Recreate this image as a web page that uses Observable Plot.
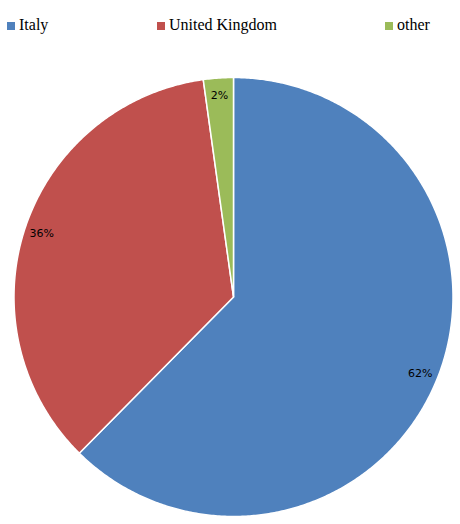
<!DOCTYPE html>
<html>
<head>
<meta charset="utf-8">
<script src="https://cdn.jsdelivr.net/npm/d3@7"></script>
<script src="https://cdn.jsdelivr.net/npm/@observablehq/plot@0.6"></script>
<style>
  body { margin: 0; background: #fff; }
  #legend { position: relative; width: 460px; height: 50px; font-family: "Liberation Serif", "Times New Roman", serif; font-size: 16px; color: #000; }
  .sw { position: absolute; width: 8px; height: 8px; top: 22px; }
  .lb { position: absolute; top: 16px; line-height: 18px; white-space: nowrap; }
</style>
</head>
<body>
<div id="legend"></div>
<div id="chart"></div>
<script>
const categories = ["Italy", "United Kingdom", "other"];
const shares = [62.4, 35.4, 2.2];
const labels = ["62%", "36%", "2%"];
const colors = ["#4F81BD", "#C0504D", "#9BBB59"];

// legend
const legendX = [7, 157, 385];
const legend = document.getElementById("legend");
categories.forEach((c, i) => {
  const sw = document.createElement("div");
  sw.className = "sw";
  sw.style.left = legendX[i] + "px";
  sw.style.background = colors[i];
  legend.appendChild(sw);
  const lb = document.createElement("div");
  lb.className = "lb";
  lb.style.left = (legendX[i] + 12) + "px";
  lb.textContent = c;
  legend.appendChild(lb);
});

const data = categories.map((c, i) => ({category: c, value: shares[i], label: labels[i]}));
const arcs = d3.pie().sort(null).value(d => d.value)(data);

const pt = (a, r) => [r * Math.sin(a), r * Math.cos(a)];
const slices = arcs.map(a => {
  const ring = [[0, 0]];
  const n = Math.max(2, Math.ceil((a.endAngle - a.startAngle) / (Math.PI / 360)));
  for (let k = 0; k <= n; k++) ring.push(pt(a.startAngle + (a.endAngle - a.startAngle) * k / n, 1));
  ring.push([0, 0]);
  return {type: "Feature", properties: {category: a.data.category}, geometry: {type: "Polygon", coordinates: [ring]}};
});
const labelR = 0.92;
const labelPts = arcs.map(a => {
  const [x, y] = pt((a.startAngle + a.endAngle) / 2, labelR);
  return {x, y, label: a.data.label};
});
const frame = {type: "Polygon", coordinates: [[[-1, -1], [1, -1], [1, 1], [-1, 1], [-1, -1]]]};

const chart = Plot.plot({
  width: 460,
  height: 474,
  marginLeft: 13.5,
  marginRight: 7.5,
  marginTop: 27,
  marginBottom: 8,
  projection: {type: "reflect-y", domain: frame},
  color: {domain: categories, range: colors},
  marks: [
    Plot.geo(slices, {fill: d => d.properties.category, stroke: "#fff", strokeWidth: 1.5}),
    Plot.text(labelPts, {x: "x", y: "y", text: "label", fill: "#000", fontSize: 11, fontFamily: "DejaVu Sans"})
  ]
});
chart.style.fontFamily = "DejaVu Sans";
document.getElementById("chart").appendChild(chart);
</script>
</body>
</html>
